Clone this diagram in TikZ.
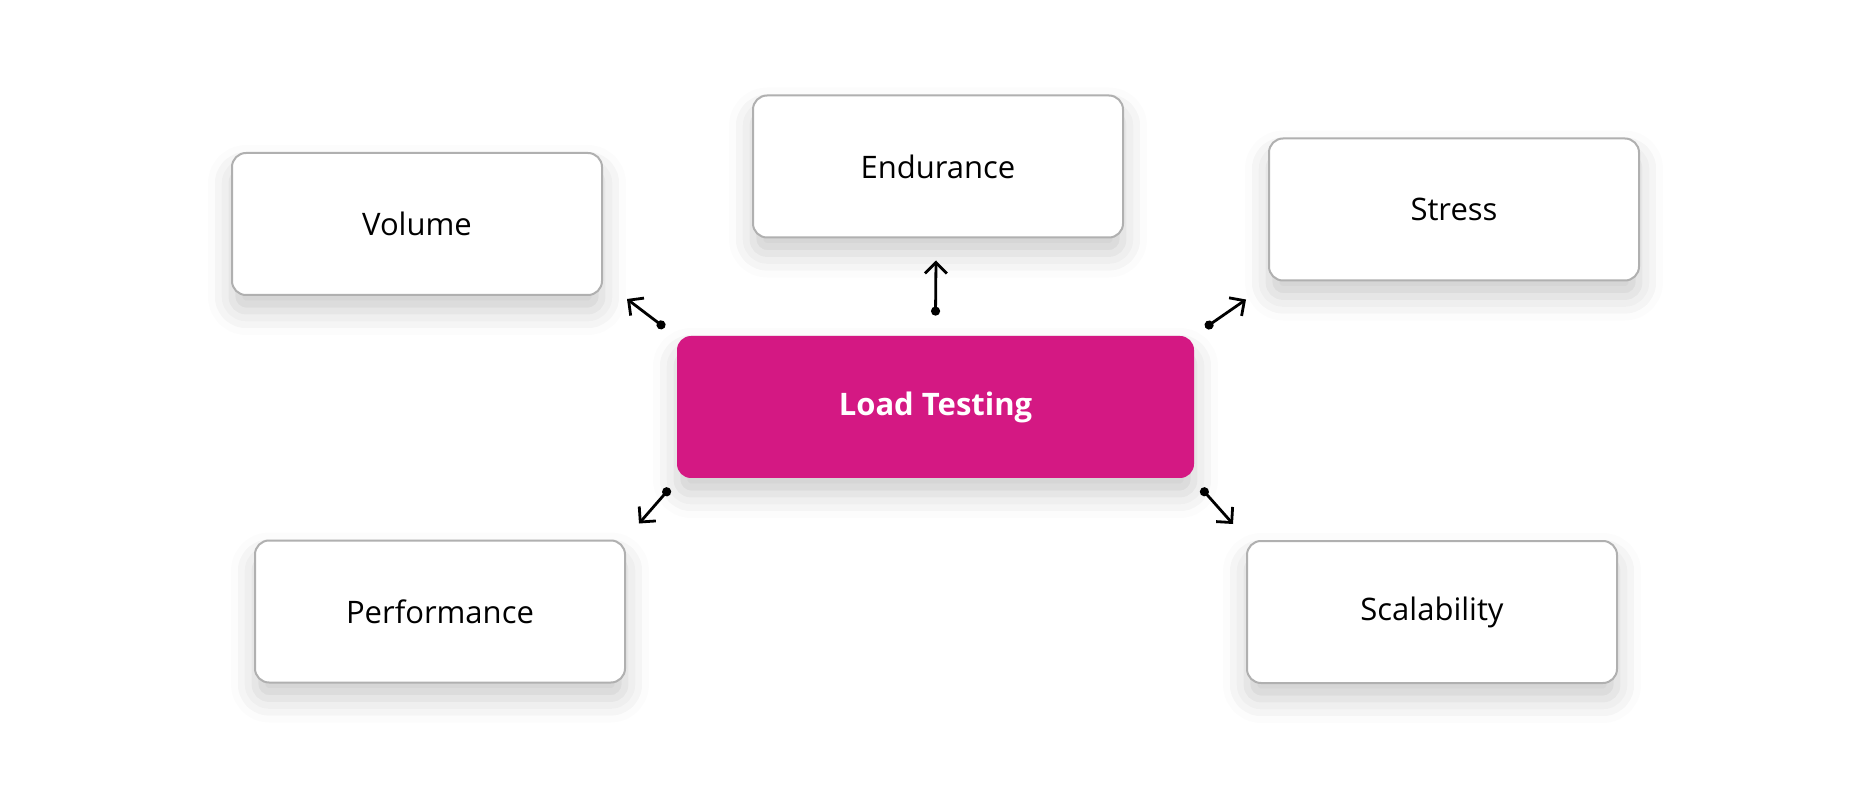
\documentclass[tikz,border=0pt]{standalone}
\usepackage{fontspec}
\setmainfont{Open Sans}
\usetikzlibrary{arrows.meta, shadows.blur}
\definecolor{loadpink}{HTML}{D41883}
\definecolor{boxgray}{HTML}{B0B0B0}

\begin{document}
\begin{tikzpicture}[
		x=0.5pt, y=-0.5pt,
		card/.style={rectangle, rounded corners=7pt, minimum width=185pt, minimum height=71pt,
			font=\fontsize{15.5pt}{18pt}\selectfont,
			blur shadow={shadow xshift=0pt, shadow yshift=-8pt, shadow blur radius=12pt, shadow opacity=20}},
		test_box/.style={card, draw=boxgray, line width=1pt, fill=white},
		load_box/.style={card, fill=loadpink, text=white, font=\fontsize{15.5pt}{18pt}\selectfont\bfseries, minimum width=258.5pt},
		link/.style={line width=1.4pt, {Circle[length=4.5pt]}-{Straight Barb[length=5.5pt, width=11pt]}}
	]
  \useasboundingbox (0, 0) rectangle (1876, 791);
  \node (load_t) [load_box] at (935.5, 407) {Load Testing};
  \node (vol) [test_box] at (417, 224) {Volume};
  \node (endur) [test_box] at (938, 166.5) {Endurance};
  \node (stress) [test_box] at (1454, 209.5) {Stress};
  \node (perf) [test_box] at (440, 611.5) {Performance};
  \node (scal) [test_box] at (1432, 612) {Scalability};
  % free ends of the arrows, next to the boxes
  \coordinate (up_s) at ([shift={(0, -20)}]load_t.north);
  \coordinate (up_e) at ([shift={(-2, 22)}]endur.south);
  \coordinate (ul_s) at ([shift={(-12, -8)}]load_t.north west);
  \coordinate (ul_e) at ([shift={(24, 3)}]vol.south east);
  \coordinate (ur_s) at ([shift={(11, -8)}]load_t.north east);
  \coordinate (ur_e) at ([shift={(-22, 18)}]stress.south west);
  \coordinate (ll_s) at ([shift={(-7, 10)}]load_t.south west);
  \coordinate (ll_e) at ([shift={(13, -16)}]perf.north east);
  \coordinate (lr_s) at ([shift={(7, 10)}]load_t.south east);
  \coordinate (lr_e) at ([shift={(-13, -16)}]scal.north west);
  \draw [link] (up_s) -- (up_e);
  \draw [link] (ul_s) -- (ul_e);
  \draw [link] (ur_s) -- (ur_e);
  \draw [link] (ll_s) -- (ll_e);
  \draw [link] (lr_s) -- (lr_e);
\end{tikzpicture}
\end{document}
